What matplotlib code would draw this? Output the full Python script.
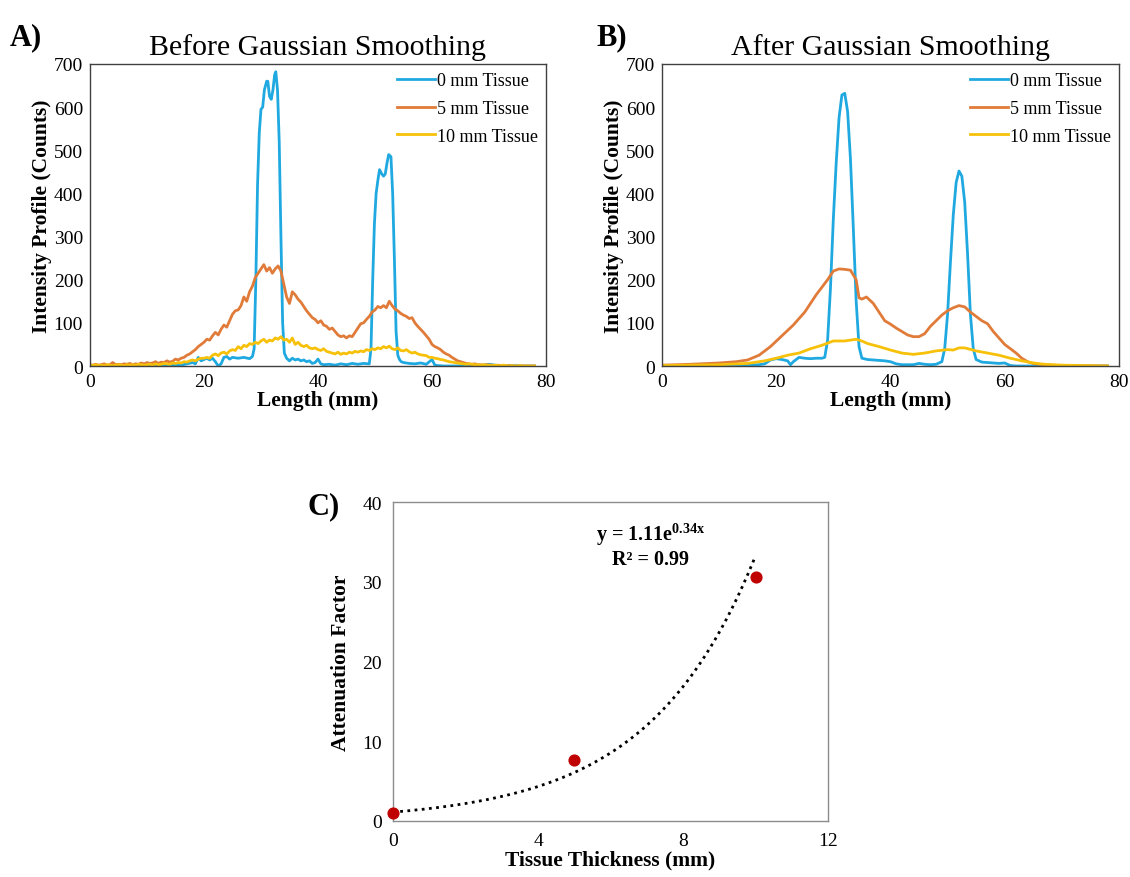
import numpy as np
import matplotlib
matplotlib.use('Agg')
import matplotlib.pyplot as plt

plt.rcParams['font.family'] = 'Liberation Serif'
plt.rcParams['mathtext.fontset'] = 'custom'
plt.rcParams['mathtext.rm'] = 'Liberation Serif'
plt.rcParams['mathtext.bf'] = 'Liberation Serif:bold'

labels = ['0 mm Tissue', '5 mm Tissue', '10 mm Tissue']
colors = ['#1FA9E0', '#E07B39', '#F7C10A']

# --- panel A: raw profiles ---
x_raw = np.arange(0, 78.5, 0.5)
orange_raw = [3, 2, 4, 2, 3, 5, 2, 3, 8, 3, 4, 3, 5, 4, 6, 3, 5, 4, 7, 5,
              8, 6, 7, 10, 6, 9, 8, 12, 9, 11, 16, 14, 18, 20, 25, 28, 33, 38, 45, 50,
              55, 62, 60, 70, 78, 72, 85, 95, 90, 105, 120, 128, 130, 140, 160, 150, 172, 185, 205, 215,
              225, 235, 220, 228, 215, 225, 232, 220, 190, 160, 145, 172, 165, 155, 148, 138, 128, 120, 112, 108,
              100, 105, 95, 92, 85, 88, 80, 72, 68, 70, 65, 70, 68, 78, 88, 98, 100, 108, 115, 125,
              130, 138, 135, 140, 135, 150, 140, 132, 128, 122, 118, 115, 110, 112, 100, 92, 85, 78, 70, 62,
              50, 45, 42, 38, 32, 28, 25, 20, 16, 12, 10, 8, 6, 5, 4, 5, 3, 3, 2, 3,
              2, 2, 1, 2, 1, 1, 0, 1, 0, 0, 0, 0, 0, 0, 0, 0, 0]
yellow_raw = [2, 1, 3, 1, 2, 1, 3, 2, 1, 2, 3, 2, 1, 3, 2, 3, 2, 4, 3, 2,
              3, 4, 2, 5, 3, 4, 6, 5, 4, 7, 6, 8, 7, 10, 9, 12, 14, 12, 16, 18,
              18, 20, 18, 25, 28, 24, 30, 32, 28, 35, 38, 36, 45, 40, 48, 45, 52, 50, 55, 52,
              58, 62, 55, 60, 58, 65, 62, 68, 60, 62, 55, 65, 50, 55, 48, 45, 48, 42, 40, 42,
              38, 36, 40, 34, 32, 30, 28, 32, 27, 30, 28, 32, 30, 34, 32, 35, 33, 38, 36, 40,
              38, 42, 40, 45, 42, 46, 40, 38, 42, 36, 35, 38, 33, 30, 32, 28, 26, 25, 24, 20,
              20, 18, 17, 15, 14, 12, 10, 9, 8, 7, 6, 5, 4, 5, 4, 3, 3, 2, 3, 2,
              2, 1, 2, 1, 1, 2, 1, 0, 1, 0, 0, 1, 0, 0, 0, 0, 0]
x_blue_raw = [0, 2, 4, 6, 8, 10, 12, 14, 16, 17, 18, 18.5, 19, 19.5, 20, 20.5, 21, 21.5, 22, 22.5,
              23, 23.5, 24, 24.5, 25, 26, 27, 28, 28.5, 28.8, 29.1, 29.4, 29.7, 30, 30.3, 30.6, 31, 31.2,
              31.5, 31.8, 32.1, 32.4, 32.6, 32.9, 33.2, 33.5, 33.8, 34.1, 34.5, 35, 35.5, 36, 36.5, 37,
              37.5, 38, 38.5, 39, 39.5, 40, 40.5, 41, 42, 43, 44, 45, 46, 47, 48, 49, 49.3, 49.6, 49.9,
              50.2, 50.5, 50.8, 51.2, 51.5, 51.8, 52.1, 52.4, 52.8, 53.1, 53.4, 53.7, 54, 54.3, 54.6,
              55, 56, 57, 58, 59, 60, 60.5, 61, 62, 64, 66, 68, 70, 72, 74, 76, 78]
blue_raw = [1, 0, 2, 1, 0, 2, 1, 3, 2, 5, 8, 5, 20, 12, 15, 18, 14, 18, 10, 0,
            5, 20, 22, 16, 20, 18, 20, 17, 22, 40, 200, 420, 540, 595, 600, 640, 660, 660,
            625, 618, 640, 675, 682, 640, 520, 300, 100, 30, 18, 12, 18, 14, 16, 12,
            14, 10, 12, 6, 8, 16, 5, 3, 4, 2, 5, 3, 6, 4, 6, 5, 40, 200, 330,
            400, 430, 455, 445, 440, 445, 470, 490, 485, 400, 250, 80, 25, 15, 10,
            8, 6, 5, 7, 4, 15, 2, 1, 0, 0, 1, 0, 4, 0, 1, 0, 0]

# --- panel B: smoothed profiles ---
x_blue_s = [0, 5, 10, 15, 17, 18, 19, 20, 21, 22, 22.5, 23, 24, 25, 26, 27, 28, 28.5, 29, 29.5,
            30, 30.5, 31, 31.5, 32, 32.5, 33, 33.5, 34, 34.5, 35, 36, 37, 38, 39, 40, 41, 42,
            43, 44, 45, 46, 47, 48, 49, 49.5, 50, 50.5, 51, 51.5, 52, 52.5, 53, 53.5, 54, 54.5,
            55, 56, 57, 58, 59, 60, 60.5, 61, 62, 65, 70, 78]
blue_s = [1, 1, 1, 2, 3, 5, 14, 17, 15, 12, 3, 10, 20, 18, 17, 18, 18, 20, 60, 180,
          340, 470, 575, 628, 632, 590, 480, 320, 150, 45, 18, 15, 14, 13, 12, 10, 5, 3,
          3, 3, 6, 4, 3, 4, 10, 40, 120, 240, 350, 425, 452, 440, 380, 260, 120, 40,
          15, 9, 8, 7, 6, 7, 4, 1, 0, 0, 0, 0]
x_orange_s = [0, 5, 10, 13, 15, 17, 19, 21, 23, 25, 27, 29, 30, 31, 32, 33, 34, 34.5, 35, 35.8,
              37, 38, 39, 40, 41, 42, 43, 44, 45, 46, 47, 48, 49, 50, 51, 52, 53, 54, 55, 56,
              57, 58, 59, 60, 61, 62, 63, 64, 65, 66, 68, 70, 78]
orange_s = [2, 4, 7, 10, 14, 25, 45, 70, 95, 125, 165, 200, 220, 225, 224, 222, 200, 158, 155, 160,
            145, 125, 105, 97, 88, 80, 72, 68, 68, 75, 92, 105, 118, 128, 135, 140, 137, 125, 115, 105,
            98, 80, 65, 50, 40, 30, 18, 10, 6, 4, 2, 1, 0]
x_yellow_s = [0, 10, 15, 18, 20, 22, 24, 26, 28, 30, 32, 34, 35, 36, 38, 40, 42, 44, 46, 48,
              50, 51, 52, 53, 55, 57, 59, 61, 63, 65, 67, 70, 78]
yellow_s = [1, 3, 6, 12, 18, 25, 30, 40, 48, 58, 58, 62, 58, 52, 45, 37, 30, 27, 30, 35,
            38, 37, 42, 42, 35, 30, 25, 18, 12, 7, 4, 2, 0]

# --- panel C: attenuation ---
thickness = [0, 5, 10]
attenuation = [1.0, 7.6, 30.6]
fit_a, fit_b = 1.11, 0.34

fig = plt.figure(figsize=(11.3, 8.78), dpi=100)
axA = fig.add_axes([0.0796, 0.582, 0.4036, 0.344])
axB = fig.add_axes([0.5858, 0.582, 0.4044, 0.344])
axC = fig.add_axes([0.3478, 0.0638, 0.3850, 0.3633])


def style_profile(ax, title):
    ax.set_xlim(0, 80)
    ax.set_ylim(0, 700)
    ax.set_xticks([0, 20, 40, 60, 80])
    ax.set_yticks(range(0, 701, 100))
    ax.tick_params(length=0, labelsize=14, pad=5)
    for s in ax.spines.values():
        s.set_color('#404040')
        s.set_linewidth(1.0)
    ax.set_xlabel('Length (mm)', fontsize=15.5, fontweight='bold', labelpad=0)
    ax.set_ylabel('Intensity Profile (Counts)', fontsize=15.5, fontweight='bold', labelpad=1)
    ax.set_title(title, fontsize=21.5, pad=7)
    ax.legend(loc='upper right', frameon=False, fontsize=13, handlelength=2.1,
              handletextpad=0.1, labelspacing=0.6, borderaxespad=0.05)


lw = 2.0
axA.plot(x_blue_raw, blue_raw, color=colors[0], lw=lw, label=labels[0])
axA.plot(x_raw, orange_raw, color=colors[1], lw=lw, label=labels[1])
axA.plot(x_raw, yellow_raw, color=colors[2], lw=lw, label=labels[2])
style_profile(axA, 'Before Gaussian Smoothing')

axB.plot(x_blue_s, blue_s, color=colors[0], lw=lw, label=labels[0])
axB.plot(x_orange_s, orange_s, color=colors[1], lw=lw, label=labels[1])
axB.plot(x_yellow_s, yellow_s, color=colors[2], lw=lw, label=labels[2])
style_profile(axB, 'After Gaussian Smoothing')

xf = np.linspace(0, 10, 200)
axC.plot(xf, fit_a * np.exp(fit_b * xf), color='black', lw=2, ls=(0, (1, 1.6)))
axC.scatter(thickness, attenuation, s=60, color='#C00000', zorder=3, clip_on=False)
axC.set_xlim(0, 12)
axC.set_ylim(0, 40)
axC.set_xticks([0, 4, 8, 12])
axC.set_yticks([0, 10, 20, 30, 40])
axC.tick_params(length=0, labelsize=14, pad=8)
for s in axC.spines.values():
    s.set_color('#8C8C8C')
    s.set_linewidth(1.0)
axC.set_xlabel('Tissue Thickness (mm)', fontsize=15.5, fontweight='bold', labelpad=0)
axC.set_ylabel('Attenuation Factor', fontsize=15.5, fontweight='bold', labelpad=8)
axC.text(7.1, 36.0, r'y = 1.11e$^{\mathbf{0.34x}}$', fontsize=14.5, fontweight='bold',
         ha='center', va='center')
axC.text(7.1, 32.8, 'R² = 0.99', fontsize=14.5, fontweight='bold', ha='center', va='center')

fig.text(0.009, 0.957, 'A)', fontsize=22, fontweight='bold', va='center')
fig.text(0.528, 0.957, 'B)', fontsize=22, fontweight='bold', va='center')
fig.text(0.272, 0.423, 'C)', fontsize=22, fontweight='bold', va='center')

fig.savefig('out.png', dpi=100)
